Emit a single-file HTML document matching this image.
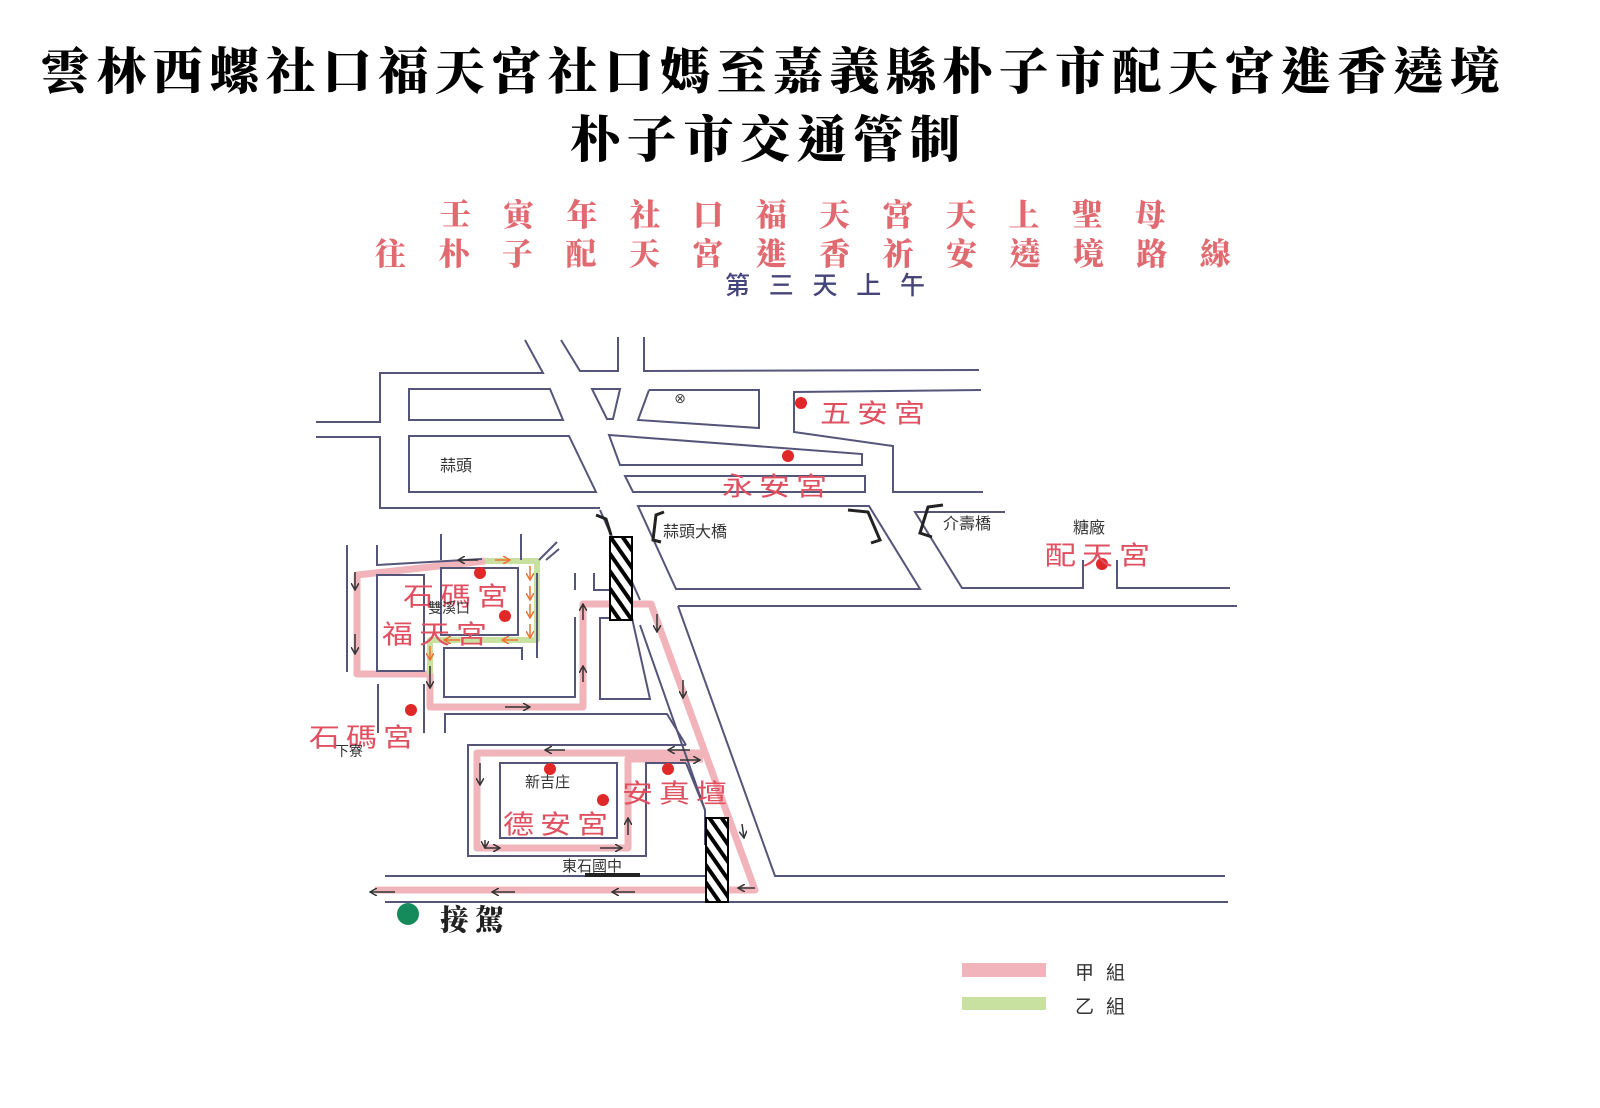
<!DOCTYPE html>
<html><head><meta charset="utf-8">
<style>
html,body{margin:0;padding:0;background:#fff;}
body{width:1600px;height:1108px;position:relative;overflow:hidden;}
.t{position:absolute;white-space:nowrap;}
.f{position:absolute;display:flex;justify-content:space-between;white-space:nowrap;}
.rl{position:absolute;white-space:nowrap;font-size:31px;letter-spacing:6px;color:#e05060;transform:scaleY(0.85);transform-origin:left top;}
</style></head><body>
<div class="f" style="left:40px;top:32px;width:1460px;font:900 50px 'Noto Serif CJK TC','Noto Serif CJK SC',serif;color:#000;"><span>雲</span><span>林</span><span>西</span><span>螺</span><span>社</span><span>口</span><span>福</span><span>天</span><span>宮</span><span>社</span><span>口</span><span>媽</span><span>至</span><span>嘉</span><span>義</span><span>縣</span><span>朴</span><span>子</span><span>市</span><span>配</span><span>天</span><span>宮</span><span>進</span><span>香</span><span>遶</span><span>境</span></div>
<div class="f" style="left:570px;top:100px;width:390px;font:900 50px 'Noto Serif CJK TC','Noto Serif CJK SC',serif;color:#000;"><span>朴</span><span>子</span><span>市</span><span>交</span><span>通</span><span>管</span><span>制</span></div>
<div class="f" style="left:440px;top:190px;width:726px;font:900 31px 'Noto Serif CJK TC','Noto Serif CJK SC',serif;color:#e06a70;"><span>壬</span><span>寅</span><span>年</span><span>社</span><span>口</span><span>福</span><span>天</span><span>宮</span><span>天</span><span>上</span><span>聖</span><span>母</span></div>
<div class="f" style="left:375px;top:229px;width:856px;font:900 31px 'Noto Serif CJK TC','Noto Serif CJK SC',serif;color:#e06a70;"><span>往</span><span>朴</span><span>子</span><span>配</span><span>天</span><span>宮</span><span>進</span><span>香</span><span>祈</span><span>安</span><span>遶</span><span>境</span><span>路</span><span>線</span></div>
<div class="f" style="left:725px;top:266px;width:200px;font:500 25px 'Noto Sans CJK TC',sans-serif;color:#45457a;"><span>第</span><span>三</span><span>天</span><span>上</span><span>午</span></div>

<svg width="1600" height="1108" style="position:absolute;left:0;top:0" xmlns="http://www.w3.org/2000/svg">
<defs>
<pattern id="h" width="10" height="10" patternUnits="userSpaceOnUse" patternTransform="rotate(-35)">
<rect width="10" height="10" fill="#fff"/><rect width="4" height="10" fill="#000"/></pattern>
<marker id="a" markerWidth="8" markerHeight="8" refX="7" refY="4" orient="auto" markerUnits="userSpaceOnUse"><path d="M0,0 L7,4 L0,8" fill="none" stroke="#333" stroke-width="1.5"/></marker>
<marker id="o" markerWidth="8" markerHeight="8" refX="7" refY="4" orient="auto" markerUnits="userSpaceOnUse"><path d="M0,0 L7,4 L0,8" fill="none" stroke="#f07030" stroke-width="1.5"/></marker>
</defs>
<g fill="none" stroke="#f0b4ba" stroke-width="7" stroke-linejoin="round">
<polyline points="485,561 357,575 357,674 430,674 430,707 583,707 583,604 651,604 755,890 375,890"/>
<polyline points="704,753 477,753 477,848 628,848 628,759 703,759"/>
</g>
<g fill="none" stroke="#c8e0a0" stroke-width="6" stroke-linejoin="round">
<polyline points="485,561 537,561 537,640 430,640 430,674"/>
</g>
<g fill="none" stroke="#55557a" stroke-width="2">
<polyline points="525,340 543,373 380,373 380,422 316,422"/>
<polyline points="316,437 380,437 380,508 600,508"/>
<polygon points="409,389 550,389 563,420 409,420"/>
<polygon points="592,389 620,389 613,419 607,419"/>
<polyline points="649,390 759,390 759,428 638,420 649,390"/>
<polyline points="561,340 580,371 618,371 618,337"/>
<polyline points="644,337 644,371 979,370"/>
<polyline points="981,390 794,392 794,432 893,446 893,492 983,492"/>
<polygon points="409,436 569,436 596,492 409,492"/>
<polygon points="609,435 862,454 862,465 620,465"/>
<polygon points="625,476 865,476 865,492 633,492"/>
<polygon points="638,506 869,506 920,589 676,589"/>
<polyline points="1005,512 915,512 962,588 1083,588 1083,560"/>
<polyline points="1117,560 1117,588 1230,588"/>
<polyline points="678,606 1237,606"/>
<polyline points="678,606 775,876 1225,876"/>
<polyline points="385,902 1228,902"/>
<polyline points="385,876 708,876"/>
<polyline points="600,510 640,600"/>
<line x1="347" y1="545" x2="347" y2="672"/>
<polyline points="377,545 377,565 482,559"/>
<line x1="441" y1="534" x2="441" y2="560"/>
<line x1="521" y1="534" x2="521" y2="560"/>
<rect x="441" y="568" width="77" height="67"/>
<rect x="377" y="575" width="47" height="96"/>
<line x1="537" y1="573" x2="537" y2="658"/>
<line x1="539" y1="560" x2="557" y2="542"/>
<line x1="546" y1="560" x2="559" y2="549"/>
<line x1="575" y1="573" x2="575" y2="590"/>
<polyline points="594,573 594,590 609,590"/>
<polyline points="522,660 522,648 444,648 444,697 575,697 575,617"/>
<polygon points="600,618 632,618 650,699 600,699"/>
<polyline points="640,625 705,810 705,845"/>
<polyline points="445,733 445,714 667,714 686,745"/>
<line x1="424" y1="684" x2="424" y2="733"/>
<line x1="378" y1="684" x2="378" y2="733"/>
<polyline points="686,745 468,745 468,856 646,856 646,763 686,763"/>
<rect x="500" y="763" width="117" height="75"/>
<line x1="686" y1="763" x2="705" y2="810"/>
</g>
<g fill="none" stroke="#222" stroke-width="3">
<polyline points="596,515 606,519 611,535"/>
<polyline points="664,512 656,515 653,540 661,542"/>
<polyline points="848,510 868,512 880,540 871,543"/>
<polyline points="943,505 928,507 920,533 932,537"/>
<line x1="585" y1="875" x2="640" y2="875" stroke-width="4"/>
</g>
<g stroke="#333" stroke-width="1.5" marker-end="url(#a)">
<line x1="355" y1="572" x2="355" y2="590"/><line x1="355" y1="634" x2="355" y2="654"/>
<line x1="478" y1="560" x2="458" y2="560"/>
<line x1="430" y1="666" x2="430" y2="688"/>
<line x1="505" y1="707" x2="530" y2="707"/>
<line x1="583" y1="620" x2="583" y2="604"/><line x1="583" y1="682" x2="583" y2="666"/>
<line x1="657" y1="614" x2="657" y2="632"/><line x1="683" y1="680" x2="683" y2="698"/>
<line x1="565" y1="750" x2="545" y2="750"/>
<line x1="690" y1="750" x2="668" y2="750"/><line x1="680" y1="760" x2="700" y2="760"/>
<line x1="480" y1="763" x2="480" y2="785"/>
<line x1="485" y1="840" x2="485" y2="848"/><line x1="485" y1="848" x2="500" y2="848"/><line x1="600" y1="848" x2="622" y2="848"/>
<line x1="628" y1="835" x2="628" y2="818"/>
<line x1="742" y1="824" x2="744" y2="838"/>
<line x1="755" y1="888" x2="738" y2="888"/>
<line x1="395" y1="892" x2="370" y2="892"/><line x1="515" y1="892" x2="492" y2="892"/><line x1="635" y1="892" x2="612" y2="892"/>
</g>
<g stroke="#f07030" stroke-width="1.5" marker-end="url(#o)">
<line x1="495" y1="560" x2="510" y2="560"/>
<line x1="530" y1="566" x2="530" y2="580"/><line x1="530" y1="586" x2="530" y2="600"/><line x1="530" y1="604" x2="530" y2="618"/><line x1="530" y1="624" x2="530" y2="638"/>
<line x1="518" y1="640" x2="502" y2="640"/><line x1="460" y1="640" x2="444" y2="640"/>
<line x1="430" y1="646" x2="430" y2="660"/>
</g>
<rect x="610" y="537" width="22" height="83" fill="url(#h)" stroke="#000" stroke-width="2"/>
<rect x="706" y="818" width="22" height="84" fill="url(#h)" stroke="#000" stroke-width="2"/>
<g fill="#e02828">
<circle cx="801" cy="403" r="6"/><circle cx="788" cy="456" r="6"/><circle cx="1102" cy="564" r="6"/>
<circle cx="480" cy="573" r="6"/><circle cx="505" cy="616" r="6"/><circle cx="411" cy="710" r="6"/>
<circle cx="550" cy="769" r="6"/><circle cx="603" cy="800" r="6"/><circle cx="668" cy="769" r="6"/>
</g>
<circle cx="408" cy="914" r="11" fill="#158a5a"/>
<text x="680" y="403" font-size="14" text-anchor="middle" fill="#444" font-family="DejaVu Sans">⊗</text>
<rect x="962" y="963" width="84" height="14" fill="#f0b4ba"/>
<rect x="962" y="997" width="84" height="13" fill="#c8e0a0"/>
</svg>

<div style="font-family:'Liberation Sans','Noto Sans CJK TC',sans-serif;">
<div class="rl" style="left:820px;top:392px;">五安宮</div>
<div class="rl" style="left:722px;top:465px;">永安宮</div>
<div class="t" style="left:440px;top:452px;font-size:16px;color:#333;">蒜頭</div>
<div class="t" style="left:663px;top:518px;font-size:16px;color:#333;">蒜頭大橋</div>
<div class="t" style="left:943px;top:510px;font-size:16px;color:#333;">介壽橋</div>
<div class="t" style="left:1073px;top:514px;font-size:16px;color:#333;">糖廠</div>
<div class="rl" style="left:1045px;top:534px;">配天宮</div>
<div class="rl" style="left:403px;top:575px;">石碼宮</div>
<div class="t" style="left:428px;top:598px;font-size:14px;color:#333;">雙溪口</div>
<div class="rl" style="left:382px;top:613px;">福天宮</div>
<div class="rl" style="left:309px;top:716px;">石碼宮</div>
<div class="t" style="left:335px;top:741px;font-size:14px;color:#333;">下寮</div>
<div class="t" style="left:525px;top:771px;font-size:15px;color:#333;">新吉庄</div>
<div class="rl" style="left:503px;top:803px;">德安宮</div>
<div class="rl" style="left:622px;top:772px;">安真壇</div>
<div class="t" style="left:562px;top:855px;font-size:15px;color:#333;">東石國中</div>
<div class="t" style="left:440px;top:898px;font:900 29px 'Noto Serif CJK TC','Noto Sans CJK TC',serif;color:#222;letter-spacing:6px;">接駕</div>
<div class="t" style="left:1075px;top:958px;font-size:19px;color:#333;letter-spacing:12px;">甲組</div>
<div class="t" style="left:1075px;top:992px;font-size:19px;color:#333;letter-spacing:12px;">乙組</div>
</div>
</body></html>
